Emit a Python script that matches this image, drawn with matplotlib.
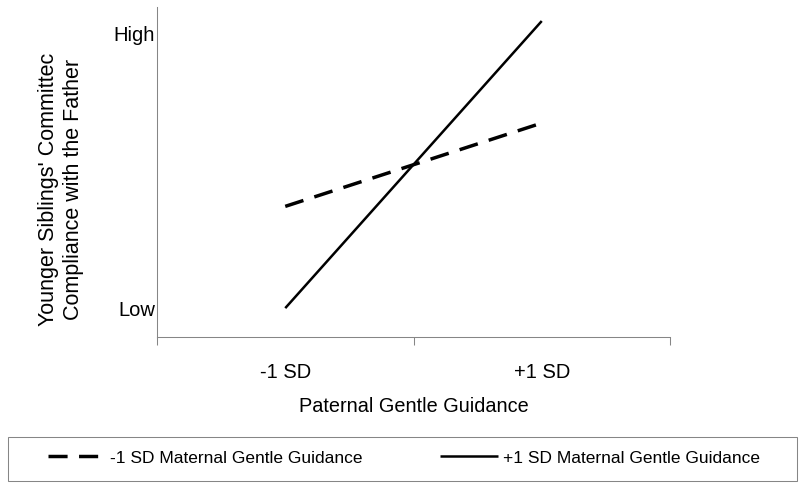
import matplotlib
matplotlib.use('Agg')
import matplotlib.pyplot as plt
from matplotlib.patches import Rectangle

plt.rcParams['font.family'] = ['Liberation Sans', 'DejaVu Sans']

# ---- data ----
x_labels = ['-1 SD', '+1 SD']
x_pos = [0, 1]
y_tick_labels = ['Low', 'High']
y_tick_vals = [0, 1]
low_maternal = [0.37, 0.673]    # -1 SD Maternal Gentle Guidance
high_maternal = [0.0, 1.044]    # +1 SD Maternal Gentle Guidance
series_names = ['-1 SD Maternal Gentle Guidance', '+1 SD Maternal Gentle Guidance']
x_title = 'Paternal Gentle Guidance'
y_title = "Younger Siblings' Committec\nCompliance with the Father"

W, H = 800, 488
grey = '#868686'

fig = plt.figure(figsize=(W / 100, H / 100), dpi=100)
ax = fig.add_axes([157 / W, 1 - 337 / H, (670 - 157) / W, (337 - 7) / H])

l1, = ax.plot(x_pos, low_maternal, color='black', lw=2.5, dashes=(5.5, 3.3),
              dash_capstyle='butt', solid_capstyle='butt')
l2, = ax.plot(x_pos, high_maternal, color='black', lw=1.8, solid_capstyle='butt')

ax.set_xlim(-0.5, 1.5)
ax.set_ylim(-0.105, 1.095)

ax.set_xticks([-0.5, 0.5, 1.5])
ax.set_xticklabels([])
ax.set_xticks(x_pos, minor=True)
ax.set_xticklabels(x_labels, minor=True)
ax.tick_params(axis='x', which='major', length=6, width=0.75, color=grey, direction='out')
ax.tick_params(axis='x', which='minor', length=0, pad=19, labelsize=14.5)

ax.set_yticks(y_tick_vals)
ax.set_yticklabels(y_tick_labels)
ax.tick_params(axis='y', length=0, pad=1.5, labelsize=14.5)

for s in ['top', 'right']:
    ax.spines[s].set_visible(False)
for s in ['left', 'bottom']:
    ax.spines[s].set_color(grey)
    ax.spines[s].set_linewidth(0.75)

fig.text(413.5 / W, 1 - 412 / H, x_title, ha='center', va='baseline', fontsize=14.3)
fig.text(61 / W, 1 - 189 / H, y_title, rotation=90, ha='center', va='center',
         multialignment='center', fontsize=15.5, linespacing=1.22)

leg1 = fig.legend([l1], series_names[:1], loc='center left',
                  bbox_to_anchor=(48 / W, 1 - 458 / H), frameon=False,
                  fontsize=12.5, handlelength=2.95, handletextpad=0.6,
                  borderpad=0, borderaxespad=0)
leg2 = fig.legend([l2], series_names[1:], loc='center left',
                  bbox_to_anchor=(440 / W, 1 - 458 / H), frameon=False,
                  fontsize=12.5, handlelength=3.35, handletextpad=0.3,
                  borderpad=0, borderaxespad=0)
fig.add_artist(Rectangle((7.5 / W, 1 - 481 / H), (797 - 7.5) / W, 44 / H,
                         transform=fig.transFigure, fill=False,
                         edgecolor=grey, lw=0.75))

fig.savefig('out.png', dpi=100)
